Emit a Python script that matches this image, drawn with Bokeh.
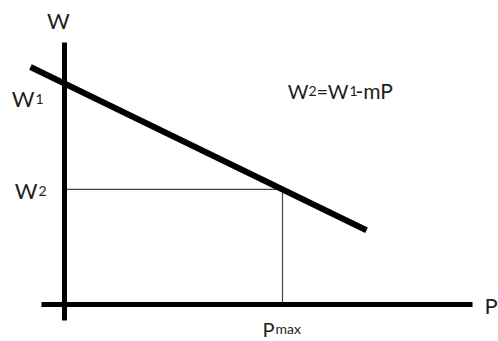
from bokeh.plotting import figure
from bokeh.embed import file_html
from bokeh.resources import INLINE
from bokeh.core.properties import value

# ---- data (conceptual units: P along x, W along y) ----
W1 = 221.0
Pmax = 218.0
m = 0.486
W2 = W1 - m * Pmax
line_P = [-34.0, 302.0]
line_W = [W1 - m * p for p in line_P]
vaxis_W = [-16.0, 262.0]
haxis_P = [-23.0, 408.0]

# ---- layout helpers (pixel offsets of the origin inside the page) ----
OX, OY = 64.0, 304.0
TEXT_SHIFT = 8.0
def px(x):
    return x - OX
def py(y):
    return OY - y

FONT = value("Lato")
COL = "#1e1e1e"

p = figure(width=498, height=341, output_backend="svg", toolbar_location=None,
           x_range=(px(0), px(498)), y_range=(py(341), py(0)),
           min_border=0, min_border_left=0, min_border_right=0,
           min_border_top=0, min_border_bottom=0)
p.axis.visible = False
p.grid.visible = False
p.outline_line_color = None
p.background_fill_color = "white"
p.border_fill_color = "white"

# thin guide lines
p.line([0, Pmax], [W2, W2], line_color="#444444", line_width=1.2)
p.line([Pmax, Pmax], [W2, 0], line_color="#444444", line_width=1.2)

# axes
p.line([0, 0], vaxis_W, line_color="black", line_width=5)
p.line(haxis_P, [0, 0], line_color="black", line_width=5)

# demand line
p.line(line_P, line_W, line_color="black", line_width=6)

def txt(x, y, s, size, align="left", base="alphabetic"):
    p.text(x=[px(x)], y=[py(y - TEXT_SHIFT)], text=[s], text_font=FONT,
           text_font_size=size, text_color=COL, text_align=align,
           text_baseline=base)

# axis titles
txt(58, 28, "W", "22px", align="center")
txt(484, 313, "P", "22px")

# W1 label
txt(34, 106, "W", "22px", align="right")
txt(35, 106, "1", "14px")
# W2 label
txt(37, 198, "W", "22px", align="right")
txt(38, 198, "2", "14px")
# Pmax label
txt(274, 336, "P", "20px", align="right")
txt(275, 336, "max", "14px")

# equation
txt(308, 98, "W", "20px", align="right")
txt(308, 98, "2", "14px")
txt(316, 98, "=", "20px")
txt(348, 98, "W", "20px", align="right")
txt(349, 98, "1", "14px")
txt(355, 98, "-mP", "21px")

open("out.html", "w").write(file_html(p, INLINE))
